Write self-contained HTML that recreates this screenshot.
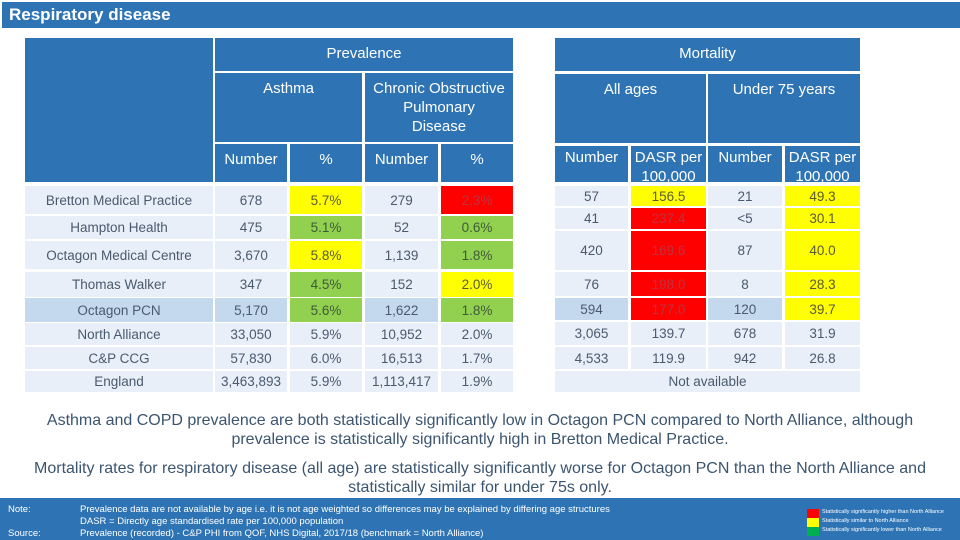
<!DOCTYPE html>
<html><head><meta charset="utf-8">
<style>
body{margin:0;width:960px;height:540px;background:#fff;position:relative;overflow:hidden;font-family:"Liberation Sans",sans-serif;}
.a{position:absolute;box-sizing:border-box;display:flex;align-items:center;justify-content:center;text-align:center;}
.h{background:#2E74B5;color:#fff;font-size:15px;align-items:flex-start;line-height:19px;padding-top:6px;}
.c{font-size:13.5px;color:#4A5A6E;background:#E9EFF8;}
.p{position:absolute;left:0;width:960px;text-align:center;color:#3B5570;font-size:16px;line-height:19px;letter-spacing:0px;}
.f{position:absolute;color:#fff;font-size:9.5px;white-space:nowrap;}
</style></head>
<body>
<div class="a" style="left:2px;top:2px;width:958px;height:26px;background:#2E74B5;color:#fff;font-weight:bold;font-size:17px;justify-content:flex-start;padding-left:7px;">Respiratory disease</div>
<div id="tbl"></div>
<div class="p" style="top:411px;">Asthma and COPD prevalence are both statistically significantly low in Octagon PCN compared to North Alliance, although<br>prevalence is statistically significantly high in Bretton Medical Practice.</div>
<div class="p" style="top:459px;">Mortality rates for respiratory disease (all age) are statistically significantly worse for Octagon PCN than the North Alliance and<br>statistically similar for under 75s only.</div>
<div style="position:absolute;left:0;top:498px;width:960px;height:42px;background:#2E74B5;"></div>
<div class="f" style="left:8px;top:504px;">Note:</div>
<div class="f" style="left:8px;top:528px;">Source:</div>
<div class="f" style="left:80px;top:504px;">Prevalence data are not available by age i.e. it is not age weighted so differences may be explained by differing age structures</div>
<div class="f" style="left:80px;top:516px;">DASR = Directly age standardised rate per 100,000 population</div>
<div class="f" style="left:80px;top:528px;">Prevalence (recorded) - C&amp;P PHI from QOF, NHS Digital, 2017/18 (benchmark = North Alliance)</div>
<div style="position:absolute;left:807px;top:509px;width:12px;height:9px;background:#FF0000;"></div>
<div style="position:absolute;left:807px;top:518px;width:12px;height:9px;background:#FFFF00;"></div>
<div style="position:absolute;left:807px;top:527px;width:12px;height:9px;background:#00B050;"></div>
<div class="f" style="left:822px;top:509px;font-size:5.5px;">Statistically significantly higher than North Alliance</div>
<div class="f" style="left:822px;top:518px;font-size:5.5px;">Statistically similar to North Alliance</div>
<div class="f" style="left:822px;top:527px;font-size:5.5px;">Statistically significantly lower than North Alliance</div>
<script>
const names=["Bretton Medical Practice","Hampton Health","Octagon Medical Centre","Thomas Walker","Octagon PCN","North Alliance","C&P CCG","England"];
const asthmaNum=["678","475","3,670","347","5,170","33,050","57,830","3,463,893"];
const asthmaPct=["5.7%","5.1%","5.8%","4.5%","5.6%","5.9%","6.0%","5.9%"];
const asthmaCol=["Y","G","Y","G","G","","",""];
const copdNum=["279","52","1,139","152","1,622","10,952","16,513","1,113,417"];
const copdPct=["2.3%","0.6%","1.8%","2.0%","1.8%","2.0%","1.7%","1.9%"];
const copdCol=["R","G","G","Y","G","","",""];
const allNum=["57","41","420","76","594","3,065","4,533"];
const allRate=["156.5","237.4","169.6","198.0","177.0","139.7","119.9"];
const allCol=["Y","R","R","R","R","",""];
const u75Num=["21","<5","87","8","120","678","942"];
const u75Rate=["49.3","30.1","40.0","28.3","39.7","31.9","26.8"];
const u75Col=["Y","Y","Y","Y","Y","",""];
const COL={Y:["#FFFF00","#5A5A3A"],G:["#92D050","#3E5A3A"],R:["#FF0000","#C03040"]};
const T=document.getElementById('tbl');
function box(x,y,w,h,txt,cls,name,st){
 const d=document.createElement('div');
 d.className='a '+cls;
 d.style.left=x+'px';d.style.top=y+'px';d.style.width=w+'px';d.style.height=h+'px';
 if(st)Object.assign(d.style,st);
 d.innerHTML=txt;
 
 
 T.appendChild(d);return d;
}
box(25,38,188,144,'','h','left-header-blank');
box(215,38,298,33,'Prevalence','h','prevalence-header');
box(215,73,147,69,'Asthma','h','asthma-header');
box(365,73,148,69,'Chronic Obstructive<br>Pulmonary<br>Disease','h','copd-header',{whiteSpace:'nowrap'});
box(215,144,72,38,'Number','h','asthma-number-header');
box(290,144,72,38,'%','h','asthma-pct-header');
box(365,144,73,38,'Number','h','copd-number-header');
box(441,144,72,38,'%','h','copd-pct-header');
box(555,38,305,33,'Mortality','h','mortality-header');
box(555,74,151,69,'All ages','h','all-ages-header');
box(708,74,152,69,'Under 75 years','h','under75-header');
box(555,146,73,36,'Number','h','all-number-header',{paddingTop:'2px'});
box(631,146,75,36,'DASR per<br>100,000','h','all-dasr-header',{paddingTop:'2px',whiteSpace:'nowrap',overflow:'hidden'});
box(708,146,74,36,'Number','h','u75-number-header',{paddingTop:'2px'});
box(785,146,75,36,'DASR per<br>100,000','h','u75-dasr-header',{paddingTop:'2px',whiteSpace:'nowrap',overflow:'hidden'});
const LY=[186,216,241,272,298,323,347,371],LH=[28,23,28,25,24,22,22,21];
const RY=[186,208,231,272,298,322,347],RH=[20,21,39,24,22,23,22];
function cell(x,y,w,h,t,c,pcn,name){
 let st={};
 if(pcn)st.background='#C5D9EE';
 if(c){st.background=COL[c][0];st.color=COL[c][1];}
 box(x,y,w,h,t,'c',name,st);
}
for(let i=0;i<names.length;i++){
 const y=LY[i],h=LH[i],pcn=i===4;
 cell(25,y,188,h,names[i],'',pcn,'row-name-'+i);
 cell(215,y,72,h,asthmaNum[i],'',pcn,'asthma-number-'+i);
 cell(290,y,72,h,asthmaPct[i],asthmaCol[i],pcn,'asthma-pct-'+i);
 cell(365,y,73,h,copdNum[i],'',pcn,'copd-number-'+i);
 cell(441,y,72,h,copdPct[i],copdCol[i],pcn,'copd-pct-'+i);
}
for(let i=0;i<allNum.length;i++){
 const y=RY[i],h=RH[i],pcn=i===4;
 cell(555,y,73,h,allNum[i],'',pcn,'all-number-'+i);
 cell(631,y,75,h,allRate[i],allCol[i],pcn,'all-rate-'+i);
 cell(708,y,74,h,u75Num[i],'',pcn,'u75-number-'+i);
 cell(785,y,75,h,u75Rate[i],u75Col[i],pcn,'u75-rate-'+i);
}
cell(555,371,305,21,'Not available','',false,'england-mortality-na');
</script>
</body></html>
